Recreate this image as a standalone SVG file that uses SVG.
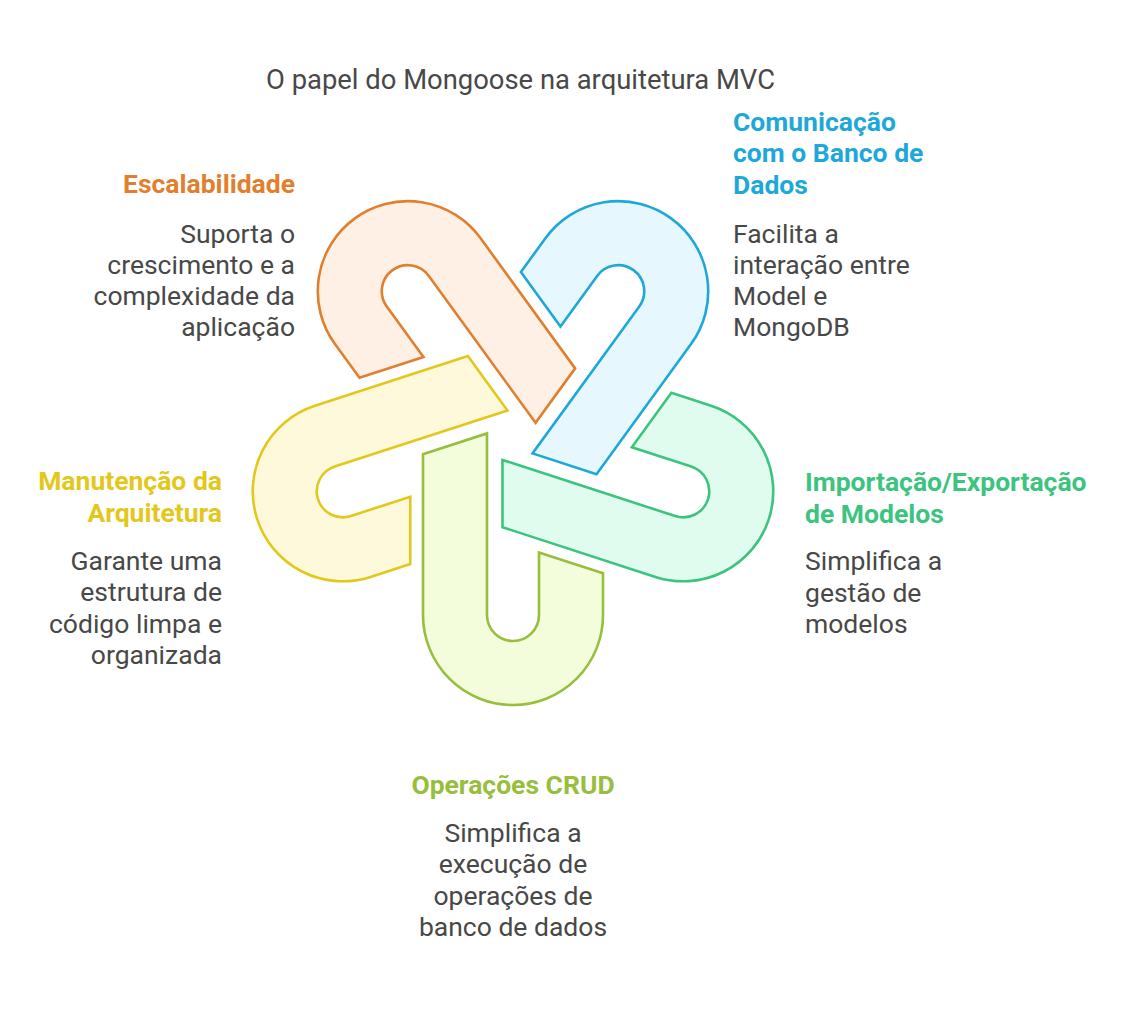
<svg xmlns="http://www.w3.org/2000/svg" width="1139" height="1011" viewBox="0 0 1139 1011">
<style>
text{font-family:Roboto,"Liberation Sans",sans-serif;}
.h{font-size:26.5px;font-weight:bold;}
.b{font-size:26.5px;fill:#484848;}
.t{font-size:27.4px;fill:#484848;}
.s{stroke-width:2.6;stroke-linejoin:miter;}
</style>
<defs>
<path id="hook" d="M -90 18.2 L -90 179 A 90 90 0 0 0 90 179 L 90 137.3 L 26 116.5 L 26 179 A 26 26 0 0 1 -26 179 L -26 -2.6 Z"/>
</defs>
<rect width="1139" height="1011" fill="#ffffff"/>
<text class="t" x="520.5" y="89" text-anchor="middle">O papel do Mongoose na arquitetura MVC</text>
<g id="connectors"></g>
<g id="crud">
<use href="#hook" class="s" transform="translate(513 436) rotate(0)" fill="#F3FDDB" stroke="#97BE3D"/>
<text class="h" x="513" y="794" text-anchor="middle" fill="#97BE3D">Operações CRUD</text>
<text class="b" x="513" text-anchor="middle"><tspan x="513" y="842">Simplifica a</tspan><tspan x="513" y="873.3">execução de</tspan><tspan x="513" y="904.6">operações de</tspan><tspan x="513" y="936">banco de dados</tspan></text>
</g>
<g id="manutencao">
<use href="#hook" class="s" transform="translate(513 436) rotate(72)" fill="#FEF9DB" stroke="#E2C81C"/>
<text class="h" text-anchor="end" fill="#E2C81C"><tspan x="222" y="489.5">Manutenção da</tspan><tspan x="222" y="521.5">Arquitetura</tspan></text>
<text class="b" text-anchor="end"><tspan x="222" y="570">Garante uma</tspan><tspan x="222" y="601.3">estrutura de</tspan><tspan x="222" y="632.6">código limpa e</tspan><tspan x="222" y="664">organizada</tspan></text>
</g>
<g id="escalabilidade">
<use href="#hook" class="s" transform="translate(513 436) rotate(144)" fill="#FEF0E4" stroke="#E07F2E"/>
<text class="h" x="295" y="193" text-anchor="end" fill="#E07F2E">Escalabilidade</text>
<text class="b" text-anchor="end"><tspan x="295" y="243">Suporta o</tspan><tspan x="295" y="274">crescimento e a</tspan><tspan x="295" y="305">complexidade da</tspan><tspan x="295" y="336">aplicação</tspan></text>
</g>
<g id="comunicacao">
<use href="#hook" class="s" transform="translate(513 436) rotate(216)" fill="#E6F7FD" stroke="#1EA8DA"/>
<text class="h" fill="#1EA8DA"><tspan x="733" y="130.5">Comunicação</tspan><tspan x="733" y="162.3">com o Banco de</tspan><tspan x="733" y="194">Dados</tspan></text>
<text class="b"><tspan x="733" y="243">Facilita a</tspan><tspan x="733" y="274">interação entre</tspan><tspan x="733" y="305">Model e</tspan><tspan x="733" y="336">MongoDB</tspan></text>
</g>
<g id="importacao">
<use href="#hook" class="s" transform="translate(513 436) rotate(288)" fill="#E0FCEF" stroke="#3CC47F"/>
<text class="h" fill="#3CC47F"><tspan x="805" y="490.5">Importação/Exportação</tspan><tspan x="805" y="522.5">de Modelos</tspan></text>
<text class="b"><tspan x="805" y="570">Simplifica a</tspan><tspan x="805" y="601.5">gestão de</tspan><tspan x="805" y="633">modelos</tspan></text>
</g>
</svg>
